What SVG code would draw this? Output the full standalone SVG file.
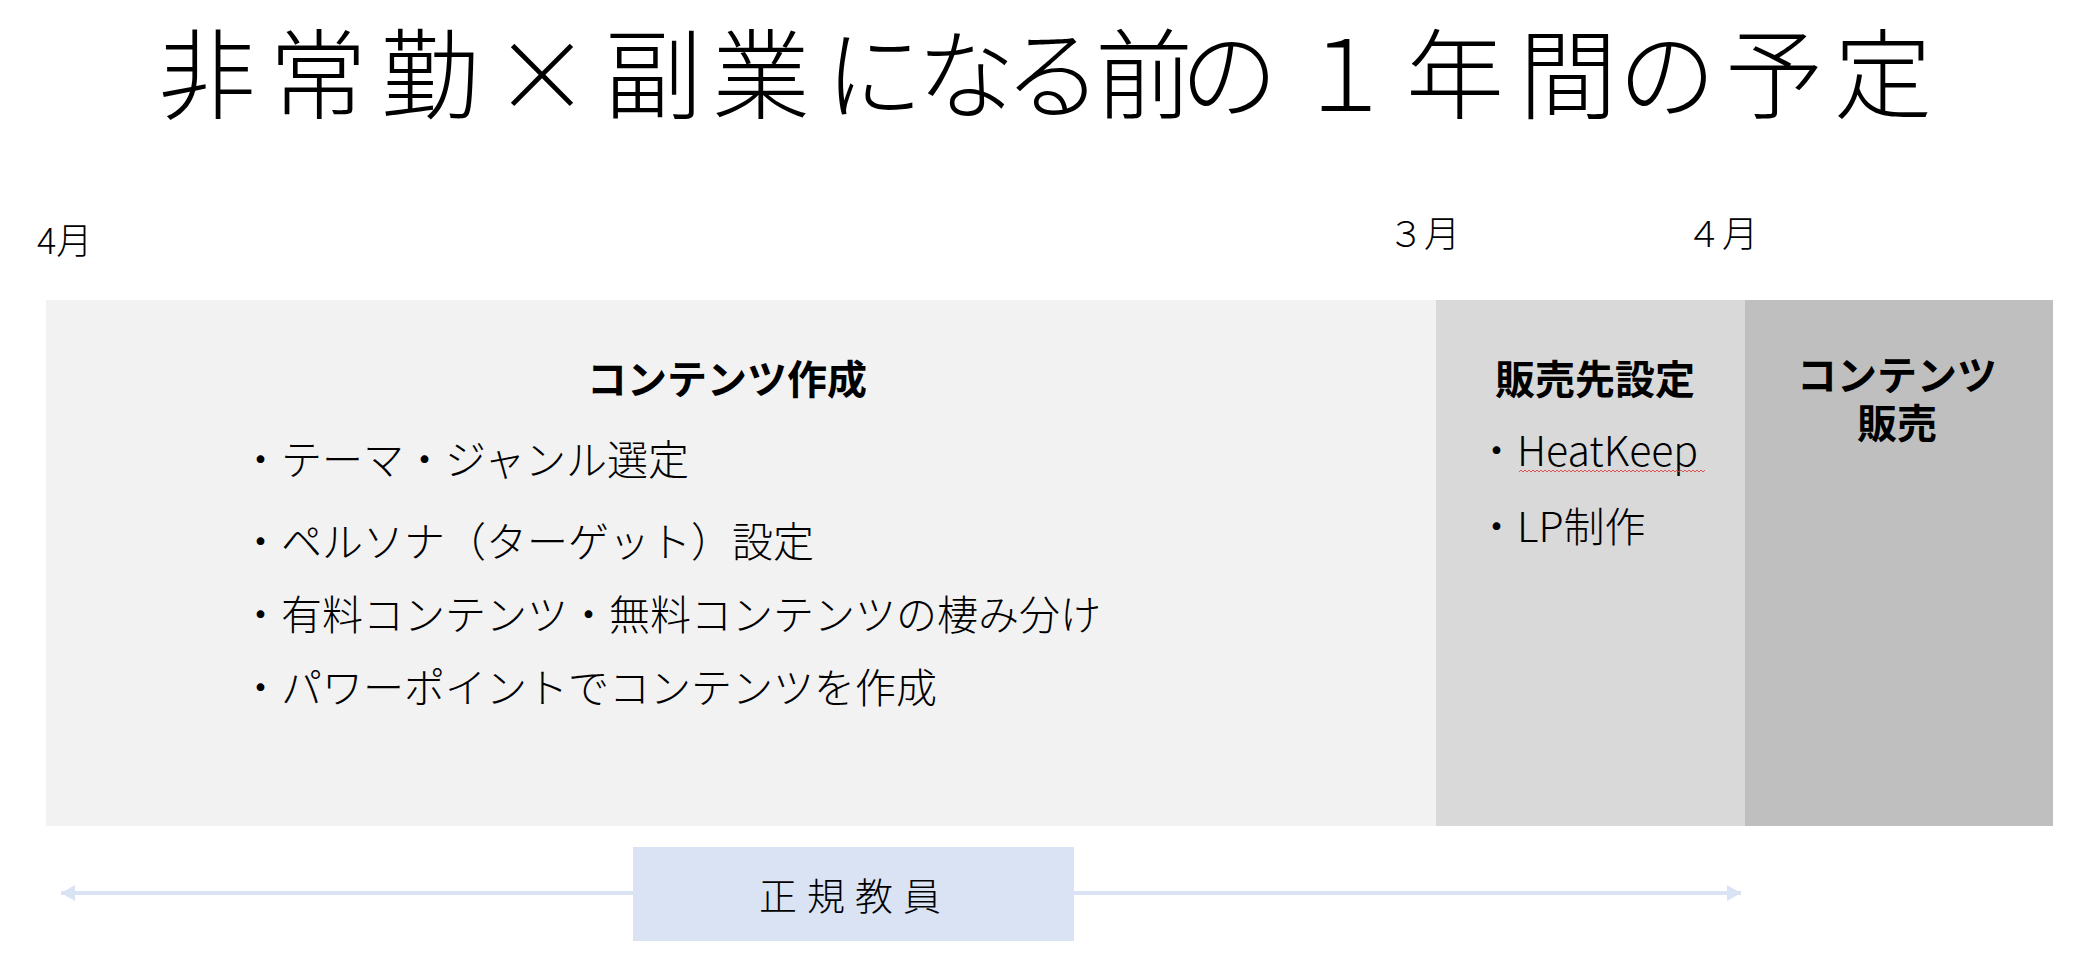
<svg xmlns="http://www.w3.org/2000/svg" width="2082" height="962" viewBox="0 0 2082 962">
  <style>
    .jp { font-family: "Noto Sans CJK JP", "Liberation Sans", sans-serif; fill: #000; }
    .jp2 { font-family: "Liberation Sans", "Noto Sans CJK JP", sans-serif; fill: #000; }
    .title { font-size: 98px; font-weight: 300; }
    .month { font-size: 36px; font-weight: 300; }
    .head { font-size: 40px; font-weight: 700; }
    .item { font-size: 41px; font-weight: 300; }
    .conn { stroke: #DAE3F3; stroke-width: 4; fill: none; }
  </style>
  <defs>
    <marker id="arrow" viewBox="0 0 14 16" refX="14" refY="8" markerWidth="14" markerHeight="16" markerUnits="userSpaceOnUse" orient="auto-start-reverse">
      <path d="M0,0 L14,8 L0,16 Z" fill="#DAE3F3"/>
    </marker>
    <pattern id="squiggle" x="1519" y="469" width="4" height="4" patternUnits="userSpaceOnUse">
      <polyline points="0,3 2,1 4,3" fill="none" stroke="#E03030" stroke-width="0.8"/>
    </pattern>
  </defs>
  <rect width="2082" height="962" fill="#FFFFFF"/>

  <g id="title">
    <text class="jp title" y="111" text-anchor="middle" x="207 318 430 542 653 761 874 966 1053 1144 1229 1345 1455 1568 1667 1774 1883">非常勤×副業になる前の１年間の予定</text>
  </g>

  <g id="months">
    <text class="jp month" x="37" y="254">4月</text>
    <text class="jp month" x="1388" y="247">３月</text>
    <text class="jp month" x="1686" y="247">４月</text>
  </g>

  <g id="connectors">
    <line class="conn" x1="61" y1="893" x2="1741" y2="893" marker-start="url(#arrow)" marker-end="url(#arrow)"/>
  </g>

  <g id="node-content-creation">
    <rect x="46" y="300" width="1390" height="526" fill="#F2F2F2"/>
    <text class="jp head" x="727" y="394" text-anchor="middle">コンテンツ作成</text>
    <text class="jp item" x="240" y="475">・テーマ・ジャンル選定</text>
    <text class="jp item" x="240" y="557">・ペルソナ（ターゲット）設定</text>
    <text class="jp item" x="240" y="630">・有料コンテンツ・無料コンテンツの棲み分け</text>
    <text class="jp item" x="240" y="703">・パワーポイントでコンテンツを作成</text>
  </g>

  <g id="node-sales-setup">
    <rect x="1436" y="300" width="309" height="526" fill="#D9D9D9"/>
    <text class="jp head" x="1595" y="394" text-anchor="middle">販売先設定</text>
    <text class="jp item" x="1476" y="466">・HeatKeep</text>
    <rect x="1519" y="469" width="186" height="4" fill="url(#squiggle)"/>
    <text class="jp item" x="1476" y="542">・LP制作</text>
  </g>

  <g id="node-content-sales">
    <rect x="1745" y="300" width="308" height="526" fill="#BFBFBF"/>
    <text class="jp2 head" text-anchor="middle"><tspan x="1897" y="390">コンテンツ</tspan><tspan x="1897" y="438">販売</tspan></text>
  </g>

  <g id="node-regular-teacher">
    <rect x="633" y="847" width="441" height="94" fill="#DAE3F3"/>
    <text class="jp" x="855" y="910" text-anchor="middle" font-size="38" font-weight="300" letter-spacing="10">正規教員</text>
  </g>
</svg>
